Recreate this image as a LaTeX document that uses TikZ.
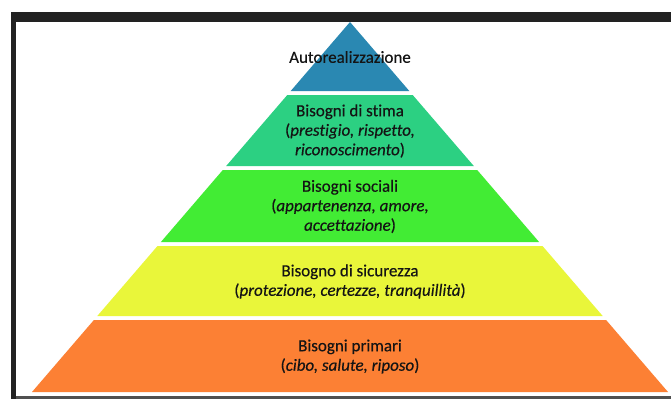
\documentclass[tikz,border=0pt]{standalone}
\usepackage{fontspec}
\setmainfont[Ligatures=NoCommon,FakeBold=0.35]{Carlito}
\definecolor{frame}{RGB}{34,34,34}
\definecolor{framegray}{RGB}{80,80,80}
\definecolor{cA}{RGB}{42,136,178}
\definecolor{cB}{RGB}{44,208,130}
\definecolor{cC}{RGB}{66,236,52}
\definecolor{cD}{RGB}{233,246,58}
\definecolor{cE}{RGB}{252,128,52}
\definecolor{txt}{RGB}{20,20,20}
\begin{document}
\begin{tikzpicture}[x=1pt,y=-1pt,
  lbl/.style={align=center, font=\fontsize{17}{19.5}\selectfont, text=txt, inner sep=0pt}]
\useasboundingbox (0,0) rectangle (671,399);
\fill[white] (0,0) rectangle (671,399);
% screen frame
\fill[frame] (11,12) rectangle (671,22);
\fill[frame] (11,12) rectangle (16,399);
\fill[framegray] (16,396) rectangle (671,399);
% pyramid bands
\fill[cA] (350,22) -- (409.3,91) -- (290.7,91) -- cycle;
\fill[cB] (287.3,95) -- (412.7,95) -- (473.8,166) -- (226.2,166) -- cycle;
\fill[cC] (222.8,170) -- (477.2,170) -- (539.1,242) -- (160.9,242) -- cycle;
\fill[cD] (157.5,246) -- (542.5,246) -- (602.7,316) -- (97.3,316) -- cycle;
\fill[cE] (93.9,320) -- (606.1,320) -- (668,392) -- (32,392) -- cycle;
% labels
\node[lbl] (l1) at (350,57) {Autorealizzazione};
\node[lbl] (l2) at (350,131) {Bisogni di stima\\(\textit{prestigio, rispetto,}\\\textit{riconoscimento})};
\node[lbl] (l3) at (350,206.5) {Bisogni sociali\\(\textit{appartenenza, amore,}\\\textit{accettazione})};
\node[lbl] (l4) at (350,281.5) {Bisogno di sicurezza\\(\textit{protezione, certezze, tranquillità})};
\node[lbl] (l5) at (350,356.5) {Bisogni primari\\(\textit{cibo, salute, riposo})};
\end{tikzpicture}
\end{document}
